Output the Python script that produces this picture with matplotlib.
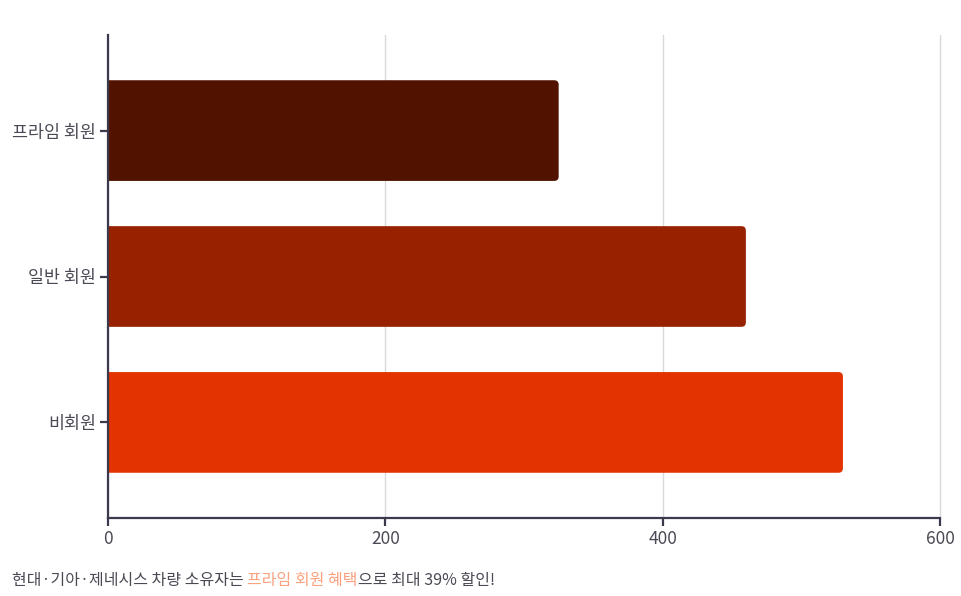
import matplotlib
matplotlib.use("Agg")
import matplotlib.pyplot as plt
from matplotlib.patches import FancyBboxPatch

plt.rcParams['font.family'] = ['Noto Sans CJK KR', 'DejaVu Sans']

categories = ["프라임 회원", "일반 회원", "비회원"]
values = [325, 460, 530]
colors = ["#511300", "#982200", "#e23300"]
xticks = [0, 200, 400, 600]

caption_parts = [
    ("현대·기아·제네시스 차량 소유자는 ", "#4a4a55", "normal"),
    ("프라임 회원 혜택", "#f9a07f", "normal"),
    ("으로 최대 39% 할인!", "#4a4a55", "normal"),
]

W, H = 962, 596
fig = plt.figure(figsize=(W / 100, H / 100), dpi=100)
ax = fig.add_axes([108 / W, 1 - 518 / H, (940 - 108) / W, (518 - 35) / H])

spine_c = "#3b3a4d"
text_c = "#4a4a55"

ypos = list(range(len(categories)))
bars = ax.barh(ypos, values, height=0.69, color=colors)
px_x = (940 - 108) / 600.0
px_y = 146.0
r_px = 4.5
rx = r_px / px_x
ry = r_px / px_y
for b, c in zip(bars, colors):
    x0, y0 = b.get_x(), b.get_y()
    w, h = b.get_width(), b.get_height()
    b.set_visible(False)
    p = FancyBboxPatch((x0 - rx * 2, y0), w + rx * 2, h,
                       boxstyle=f"round,pad=0,rounding_size={rx}",
                       mutation_aspect=ry / rx, facecolor=c, edgecolor="none",
                       zorder=2)
    ax.add_patch(p)

ax.set_xlim(0, 600)
ax.set_ylim(2.655, -0.655)
ax.set_xticks(xticks)
ax.set_xticklabels([str(t) for t in xticks])
ax.set_yticks(ypos)
ax.set_yticklabels(categories)

ax.grid(axis='x', color="#d9d9d9", linewidth=1.0, zorder=0)
for gl in ax.get_xgridlines():
    gl.set_clip_on(False)
ax.set_axisbelow(True)

for s in ["top", "right"]:
    ax.spines[s].set_visible(False)
for s in ["left", "bottom"]:
    ax.spines[s].set_color(spine_c)
    ax.spines[s].set_linewidth(1.6)
    ax.spines[s].set_zorder(3)

ax.tick_params(axis='both', colors=spine_c, width=1.6, length=5.5,
               labelcolor=text_c, labelsize=12.5)
ax.tick_params(axis='x', pad=3)
ax.tick_params(axis='y', pad=3)

x_fig = 12 / W
y_fig = 1 - 585 / H
for txt, col, wt in caption_parts:
    fig.text(x_fig, y_fig, txt, color=col, fontsize=11.5, fontweight=wt,
             va='baseline', ha='left')
fig.canvas.draw()
renderer = fig.canvas.get_renderer()
texts = list(fig.texts)
for i in range(1, len(texts)):
    bb = texts[i - 1].get_window_extent(renderer)
    texts[i].set_position((bb.x1 / fig.bbox.width, y_fig))

fig.savefig("out.png", dpi=100)
